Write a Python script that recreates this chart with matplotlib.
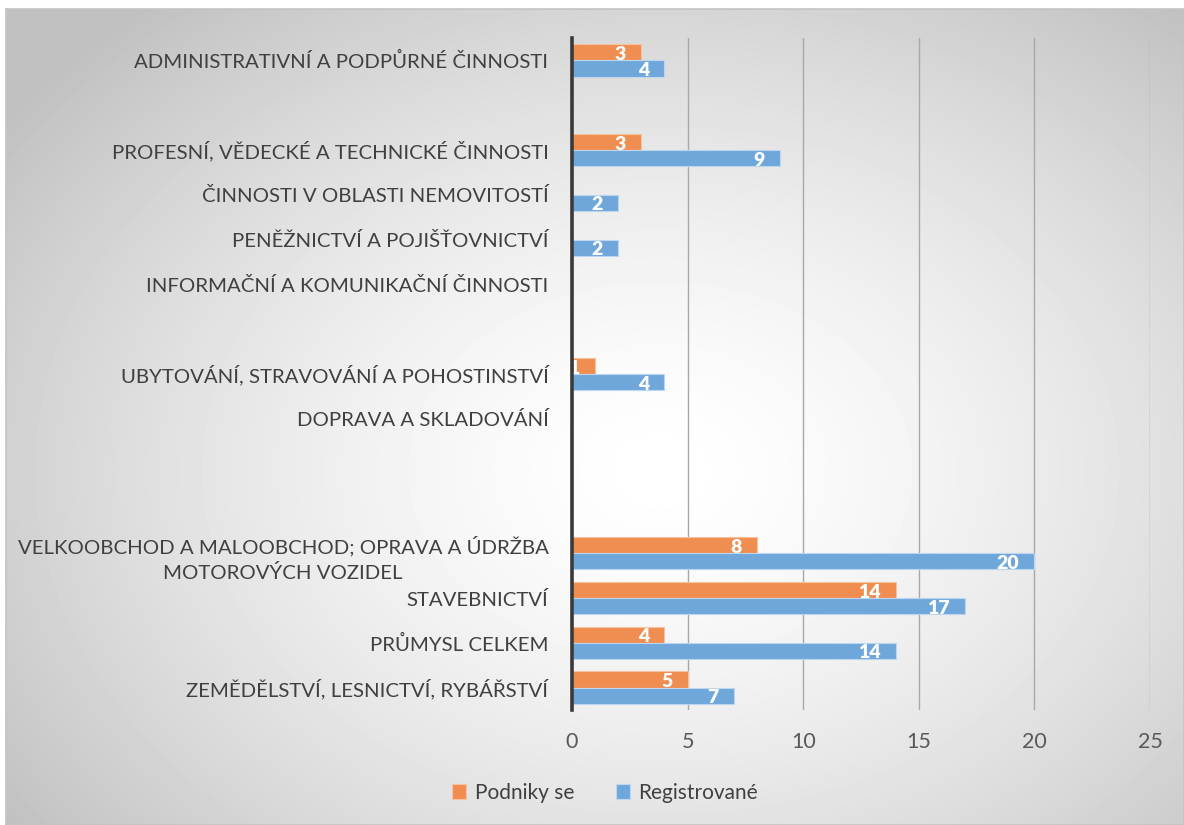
import numpy as np
import matplotlib
matplotlib.use("Agg")
import matplotlib.pyplot as plt

plt.rcParams['font.family'] = ['Lato', 'DejaVu Sans']

# categories bottom -> top, empty strings are blank slots in the original
categories = [
    "ZEMĚDĚLSTVÍ, LESNICTVÍ, RYBÁŘSTVÍ",
    "PRŮMYSL CELKEM",
    "STAVEBNICTVÍ",
    "VELKOOBCHOD A MALOOBCHOD; OPRAVA A ÚDRŽBA\nMOTOROVÝCH VOZIDEL",
    "",
    "",
    "DOPRAVA A SKLADOVÁNÍ",
    "UBYTOVÁNÍ, STRAVOVÁNÍ A POHOSTINSTVÍ",
    "",
    "INFORMAČNÍ A KOMUNIKAČNÍ ČINNOSTI",
    "PENĚŽNICTVÍ A POJIŠŤOVNICTVÍ",
    "ČINNOSTI V OBLASTI NEMOVITOSTÍ",
    "PROFESNÍ, VĚDECKÉ A TECHNICKÉ ČINNOSTI",
    "",
    "ADMINISTRATIVNÍ A PODPŮRNÉ ČINNOSTI",
]
podniky = [5, 4, 14, 8, None, None, None, 1, None, None, None, None, 3, None, 3]
registrovane = [7, 14, 17, 20, None, None, None, 4, None, None, 2, 2, 9, None, 4]
series_names = ["Podniky se", "Registrované"]

ORANGE = "#EF8E50"
BLUE = "#70A7DB"

W, H = 1184, 825
fig = plt.figure(figsize=(W / 100, H / 100), dpi=100)
fig.patch.set_facecolor("white")

# radial gradient background box
bx0, by0 = 6, 9
bg = fig.add_axes([bx0 / W, 0, 1 - bx0 / W, 1 - by0 / H], zorder=-5)
yy, xx = np.mgrid[by0:H, bx0:W]
r = np.sqrt(((xx - 660) / 800.0) ** 2 + ((yy - 470) / 600.0) ** 2)
v = 255 - 62 * np.clip(r, 0, 1) ** 1.5
bg.imshow(v, cmap="gray", vmin=0, vmax=255, aspect="auto", interpolation="bilinear")
bg.set_xticks([])
bg.set_yticks([])
for s in bg.spines.values():
    s.set_color("#c4c4c4")
    s.set_linewidth(1.2)

ax = fig.add_axes([572 / W, 1 - 710 / H, (1150 - 572) / W, (710 - 38) / H])
ax.set_facecolor("none")

y = np.arange(len(categories))
h = 0.36
pod = np.array([np.nan if p is None else p for p in podniky], dtype=float)
reg = np.array([np.nan if p is None else p for p in registrovane], dtype=float)

ax.barh(y + h / 2, np.nan_to_num(pod), height=h, color=ORANGE,
        edgecolor="#f6c3a0", linewidth=0.8, label=series_names[0], zorder=3)
ax.barh(y - h / 2, np.nan_to_num(reg), height=h, color=BLUE,
        edgecolor="#bcd6ef", linewidth=0.8, label=series_names[1], zorder=3)

for vals, off in ((pod, h / 2), (reg, -h / 2)):
    for yi, val in zip(y, vals):
        if np.isnan(val):
            continue
        ax.annotate(f"{val:g}", xy=(val, yi + off), xytext=(-11, -1.5),
                    textcoords="offset points", ha="right", va="center",
                    color="white", fontsize=14, fontweight="heavy", zorder=4)

ax.set_xlim(0, 25)
ax.set_ylim(-0.5, len(categories) - 0.5)
ax.set_xticks(np.arange(0, 26, 5))
ax.set_yticks(y)
ax.set_yticklabels(categories, multialignment="center", linespacing=1.55)
ax.tick_params(axis="y", length=0, pad=17, labelsize=14.7, labelcolor="#404040")
ax.tick_params(axis="x", length=0, pad=16, labelsize=15.5, labelcolor="#595959")

ax.grid(axis="x", color="#a8a8a8", linewidth=1, zorder=0)
ax.set_axisbelow(True)
for s in ("top", "right", "bottom"):
    ax.spines[s].set_visible(False)
ax.spines["left"].set_color("#3a3a3a")
ax.spines["left"].set_linewidth(2.6)
ax.spines["left"].set_zorder(5)

fig.legend(loc="center", bbox_to_anchor=(605 / W, 1 - 793 / H), ncol=2,
           frameon=False, fontsize=15, handlelength=0.7, handleheight=0.7,
           handletextpad=0.4, columnspacing=2.0, labelcolor="#404040")

fig.savefig("out.png", dpi=100)
